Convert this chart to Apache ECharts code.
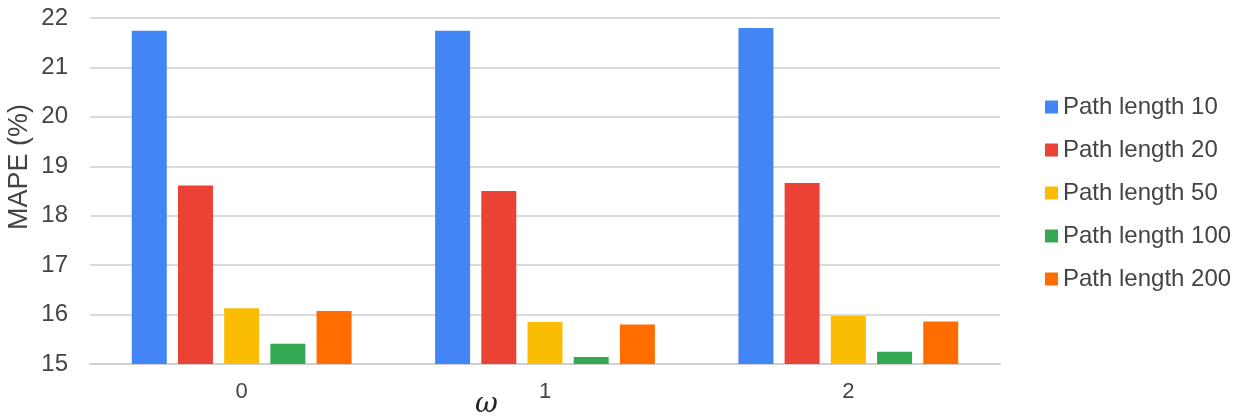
<!DOCTYPE html>
<html>
<head>
<meta charset="utf-8">
<script src="https://cdn.jsdelivr.net/npm/echarts@6/dist/echarts.min.js"></script>
<style>html,body{margin:0;padding:0;background:#fff;}#c{width:1234px;height:419px;}</style>
</head>
<body>
<div id="c"></div>
<script>
const categories = ['0', '1', '2'];
const seriesNames = ['Path length 10', 'Path length 20', 'Path length 50', 'Path length 100', 'Path length 200'];
const pathLength10 = [21.74, 21.74, 21.80];
const pathLength20 = [18.61, 18.50, 18.66];
const pathLength50 = [16.13, 15.85, 15.97];
const pathLength100 = [15.41, 15.14, 15.25];
const pathLength200 = [16.07, 15.80, 15.86];
const yTicks = [15, 16, 17, 18, 19, 20, 21, 22];

const colors = ['#4285F4', '#EA4335', '#FBBC04', '#34A853', '#FF6D01'];
const values = [pathLength10, pathLength20, pathLength50, pathLength100, pathLength200];
const font = 'Liberation Sans, Arial, sans-serif';

const chart = echarts.init(document.getElementById('c'), null, {renderer: 'canvas'});
chart.setOption({
  animation: false,
  color: colors,
  grid: {left: 90, right: 234, top: 18, bottom: 55, containLabel: false, outerBoundsMode: 'none'},
  legend: {
    orient: 'vertical',
    left: 1040,
    top: 90,
    itemWidth: 13,
    itemHeight: 13,
    itemGap: 19,
    icon: 'rect',
    textStyle: {fontFamily: font, fontSize: 24, color: '#444', lineHeight: 24},
    data: seriesNames
  },
  xAxis: {
    type: 'category',
    data: categories,
    axisTick: {show: false},
    axisLine: {lineStyle: {color: '#cfcfcf', width: 2}},
    axisLabel: {fontFamily: font, fontSize: 22, color: '#444', margin: 17}
  },
  yAxis: {
    type: 'value',
    min: yTicks[0],
    max: yTicks[yTicks.length - 1],
    interval: 1,
    axisLine: {show: false},
    axisTick: {show: false},
    splitLine: {lineStyle: {color: '#dadada', width: 2}},
    axisLabel: {fontFamily: font, fontSize: 24, color: '#444', margin: 22}
  },
  graphic: [{
    type: 'text',
    x: 20,
    y: 167,
    rotation: Math.PI / 2,
    style: {text: 'MAPE (%)', font: '27px "Liberation Sans", Arial, sans-serif', fill: '#444', align: 'center', verticalAlign: 'middle'}
  }, {
    type: 'text',
    left: 475,
    top: 391,
    style: {text: 'ω', font: 'italic 28px "DejaVu Serif", serif', fill: '#222'}
  }],
  series: seriesNames.map((n, i) => ({
    name: n,
    type: 'bar',
    data: values[i],
    barWidth: 35,
    barGap: '32%',
    itemStyle: {color: colors[i]}
  }))
});
</script>
</body>
</html>
